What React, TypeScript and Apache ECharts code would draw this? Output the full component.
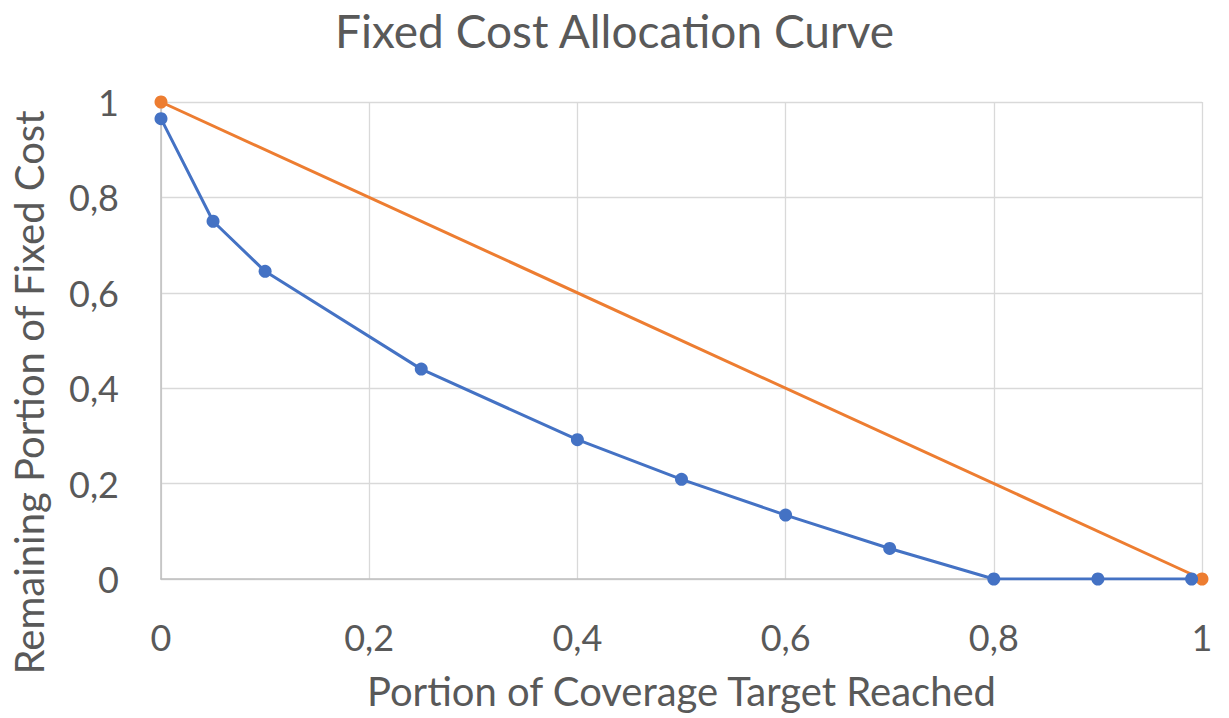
import React, { useEffect, useRef } from "react";
import * as echarts from "echarts";

const blueX = [0, 0.05, 0.1, 0.25, 0.4, 0.5, 0.6, 0.7, 0.8, 0.9, 0.99];
const blueY = [0.965, 0.75, 0.645, 0.44, 0.292, 0.209, 0.134, 0.064, 0, 0, 0];
const orangeX = [0, 1];
const orangeY = [1, 0];

const titleText = "Fixed Cost Allocation Curve";
const xName = "Portion of Coverage Target Reached";
const yName = "Remaining Portion of Fixed Cost";

const FONT = "Lato, 'Open Sans', sans-serif";
const TXT = "#595959";

export default function App() {
  const ref = useRef<HTMLDivElement>(null);
  useEffect(() => {
    document.body.style.margin = "0";
    if (!ref.current) return;
    const chart = echarts.init(ref.current, undefined, { renderer: "svg" });
    const fmt = (v: number) => String(Math.round(v * 10) / 10).replace(".", ",");
    chart.setOption({
      animation: false,
      backgroundColor: "#ffffff",
      title: {
        text: titleText,
        left: "center",
        top: 2,
        textStyle: { fontFamily: FONT, fontSize: 46, fontWeight: "normal", color: TXT },
      },
      grid: { left: 161, right: 27, top: 102, bottom: 139, containLabel: false },
      xAxis: {
        type: "value",
        min: 0,
        max: 1,
        interval: 0.2,
        name: xName,
        nameLocation: "middle",
        nameGap: 92,
        nameTextStyle: { fontFamily: FONT, fontSize: 40, color: TXT },
        axisLine: { show: true, lineStyle: { color: "#BFBFBF", width: 1.5 } },
        axisTick: { show: false },
        splitLine: { show: true, lineStyle: { color: "#D9D9D9", width: 1.3 } },
        axisLabel: { fontFamily: FONT, fontSize: 36, color: TXT, margin: 40, formatter: fmt },
      },
      yAxis: {
        type: "value",
        min: 0,
        max: 1,
        interval: 0.2,
        name: yName,
        nameLocation: "middle",
        nameGap: 112,
        nameTextStyle: { fontFamily: FONT, fontSize: 40, color: TXT, padding: [0, 104, 0, 0] },
        axisLine: { show: true, lineStyle: { color: "#BFBFBF", width: 1.5 } },
        axisTick: { show: false },
        splitLine: { show: true, lineStyle: { color: "#D9D9D9", width: 1.3 } },
        axisLabel: { fontFamily: FONT, fontSize: 36, color: TXT, margin: 42, formatter: fmt },
      },
      series: [
        {
          type: "line",
          data: orangeX.map((x, i) => [x, orangeY[i]]),
          symbol: "circle",
          symbolSize: 13,
          lineStyle: { color: "#ED7D31", width: 3 },
          itemStyle: { color: "#ED7D31" },
        },
        {
          type: "line",
          data: blueX.map((x, i) => [x, blueY[i]]),
          symbol: "circle",
          symbolSize: 13,
          lineStyle: { color: "#4472C4", width: 3 },
          itemStyle: { color: "#4472C4" },
        },
      ],
    });
    return () => chart.dispose();
  }, []);
  return <div ref={ref} style={{ width: 1229, height: 718 }} />;
}
